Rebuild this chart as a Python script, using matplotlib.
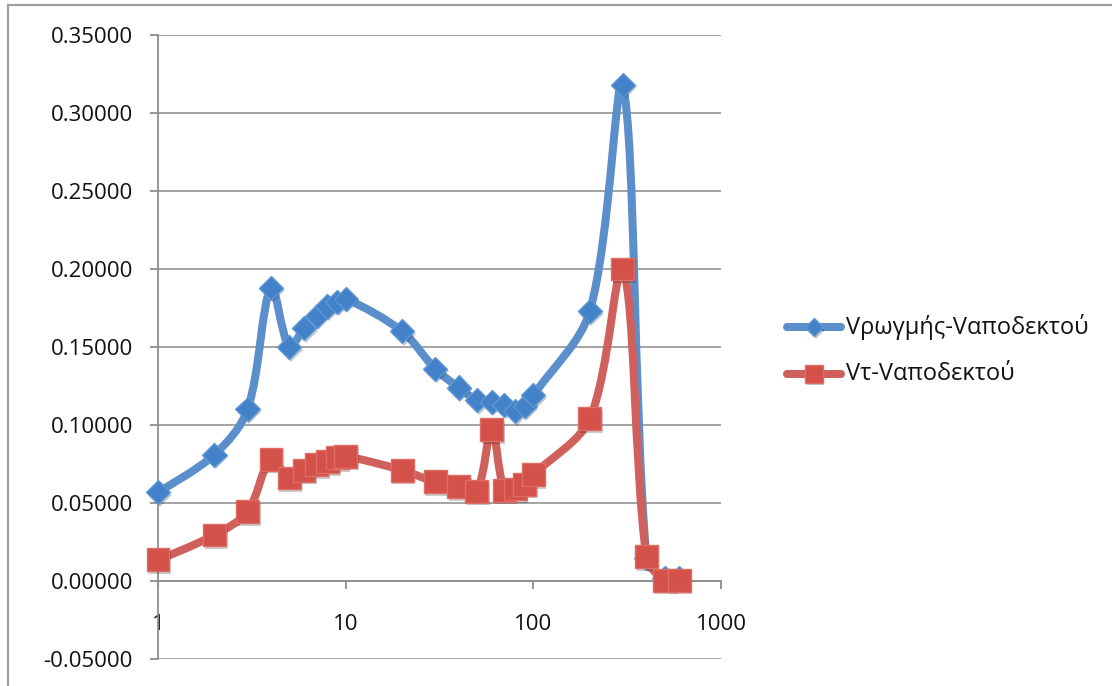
import numpy as np
import matplotlib
matplotlib.use("Agg")
import matplotlib.pyplot as plt
from matplotlib.path import Path
from matplotlib.patches import PathPatch, Rectangle
from matplotlib.lines import Line2D
from matplotlib.ticker import FixedLocator, FuncFormatter, NullLocator
import matplotlib.patheffects as pe

# ---- data -------------------------------------------------------------
x_values = [1, 2, 3, 4, 5, 6, 7, 8, 9, 10, 20, 30, 40, 50, 60, 70, 80, 90,
            100, 200, 300, 400, 500, 600]
crack_diff = [0.057, 0.081, 0.110, 0.188, 0.150, 0.162, 0.170, 0.176, 0.179,
              0.181, 0.160, 0.136, 0.124, 0.116, 0.115, 0.113, 0.109, 0.112,
              0.119, 0.173, 0.318, 0.015, 0.002, 0.002]
vt_diff = [0.0135, 0.0295, 0.0445, 0.078, 0.066, 0.071, 0.0745, 0.0765, 0.079,
           0.080, 0.071, 0.0635, 0.0605, 0.0575, 0.097, 0.058, 0.059, 0.062,
           0.068, 0.104, 0.200, 0.0155, 0.0005, 0.0005]
series_names = ["Vρωγμής-Vαποδεκτού", "Vτ-Vαποδεκτού"]
y_ticks = [-0.05, 0.0, 0.05, 0.10, 0.15, 0.20, 0.25, 0.30, 0.35]
x_ticks = [1, 10, 100, 1000]

# ---- styling ----------------------------------------------------------
W, H, DPI = 1112, 686, 100
BLUE_LINE, BLUE_FACE, BLUE_EDGE = "#5A8FCB", "#4382C8", "#5E98D4"
RED_LINE, RED_FACE, RED_EDGE = "#D0605B", "#D4514A", "#DE6D66"
GRID = "#9C9C9C"
TEXT_FONT = ["Open Sans", "DejaVu Sans"]

fig = plt.figure(figsize=(W / DPI, H / DPI), dpi=DPI)
fig.patch.set_facecolor("white")


def fx(px):
    return px / W


def fy(py):
    return 1 - py / H


ax = fig.add_axes([fx(158), fy(659), fx(721 - 158), (659 - 35) / H])
ax.set_xscale("log")
ax.set_xlim(1, 1000)
ax.set_ylim(-0.05, 0.35)

# axes, ticks and grid
for side in ("top", "right"):
    ax.spines[side].set_visible(False)
ax.spines["left"].set_color("#8E8E8E")
ax.spines["left"].set_linewidth(1.3)
ax.spines["bottom"].set_position(("data", 0.0))
ax.spines["bottom"].set_color("#8E8E8E")
ax.spines["bottom"].set_linewidth(1.3)

ax.yaxis.set_major_locator(FixedLocator(y_ticks))
ax.yaxis.set_major_formatter(FuncFormatter(lambda v, p: f"{v:.5f}"))
ax.xaxis.set_major_locator(FixedLocator(x_ticks))
ax.xaxis.set_major_formatter(FuncFormatter(lambda v, p: f"{v:g}"))
ax.xaxis.set_minor_locator(NullLocator())
ax.tick_params(axis="y", direction="out", length=6, width=1.3, color="#8E8E8E",
               pad=12, labelsize=16, labelcolor="#111111")
ax.tick_params(axis="x", direction="out", length=5.5, width=1.3, color="#8E8E8E",
               pad=18, labelsize=16, labelcolor="#111111")
for lab in ax.get_xticklabels() + ax.get_yticklabels():
    lab.set_family(TEXT_FONT)
ax.grid(axis="y", color=GRID, linewidth=1.3)
ax.grid(axis="x", visible=False)
ax.set_axisbelow(True)


def smooth_path(xs, ys):
    """Chord-weighted Bezier path through the points, built in screen space."""
    pts = ax.transData.transform(np.column_stack([xs, ys]))
    n = len(pts)
    tension = 1 / 3
    verts = [pts[0]]
    codes = [Path.MOVETO]
    for i in range(n - 1):
        p0, p1 = pts[i], pts[i + 1]
        if i == 0:
            c1 = p0
        else:
            d_prev = np.linalg.norm(p0 - pts[i - 1])
            d_next = np.linalg.norm(p1 - p0)
            c1 = p0 + (p1 - pts[i - 1]) * tension * d_next / (d_prev + d_next)
        if i + 1 == n - 1:
            c2 = p1
        else:
            d_prev = np.linalg.norm(p1 - p0)
            d_next = np.linalg.norm(pts[i + 2] - p1)
            c2 = p1 - (pts[i + 2] - p0) * tension * d_prev / (d_prev + d_next)
        verts += [c1, c2, p1]
        codes += [Path.CURVE4] * 3
    data_verts = ax.transData.inverted().transform(np.array(verts))
    return Path(data_verts, codes)


shadow = [pe.SimplePatchShadow(offset=(1.2, -1.8), shadow_rgbFace="k", alpha=0.2),
          pe.Normal()]

series = [
    (crack_diff, BLUE_LINE, BLUE_FACE, BLUE_EDGE, "D", 12.3),
    (vt_diff, RED_LINE, RED_FACE, RED_EDGE, "s", 16.5),
]
for z, (vals, lc, fc, ec, mk, ms) in enumerate(series):
    patch = PathPatch(smooth_path(x_values, vals), facecolor="none", edgecolor=lc,
                      linewidth=5.8, capstyle="round", joinstyle="round",
                      zorder=3 + 2 * z, clip_on=False)
    ax.add_patch(patch)
    ax.plot(x_values, vals, linestyle="none", marker=mk, markersize=ms,
            markerfacecolor=fc, markeredgecolor=ec, markeredgewidth=1.0,
            zorder=4 + 2 * z, clip_on=False, path_effects=shadow)

# legend
legend_rows = [327, 374]
for (vals, lc, fc, ec, mk, ms), name, row in zip(series, series_names, legend_rows):
    fig.add_artist(Line2D([fx(787), fx(841)], [fy(row), fy(row)], color=lc,
                          linewidth=5.8, solid_capstyle="round",
                          transform=fig.transFigure))
    fig.add_artist(Line2D([fx(814)], [fy(row)], linestyle="none", marker=mk,
                          markersize=ms * 0.76, markerfacecolor=fc,
                          markeredgecolor=ec, markeredgewidth=1.0,
                          transform=fig.transFigure, path_effects=shadow))
    fig.text(fx(846), fy(row), name, family=TEXT_FONT, fontsize=17,
             color="#111111", va="center", ha="left")

# chart frame
fig.add_artist(Rectangle((fx(8), fy(700)), 1.2, (700 - 5) / H, fill=False,
                         edgecolor="#A0A0A0", linewidth=1.6,
                         transform=fig.transFigure, clip_on=False))

fig.savefig("out.png", dpi=DPI)
